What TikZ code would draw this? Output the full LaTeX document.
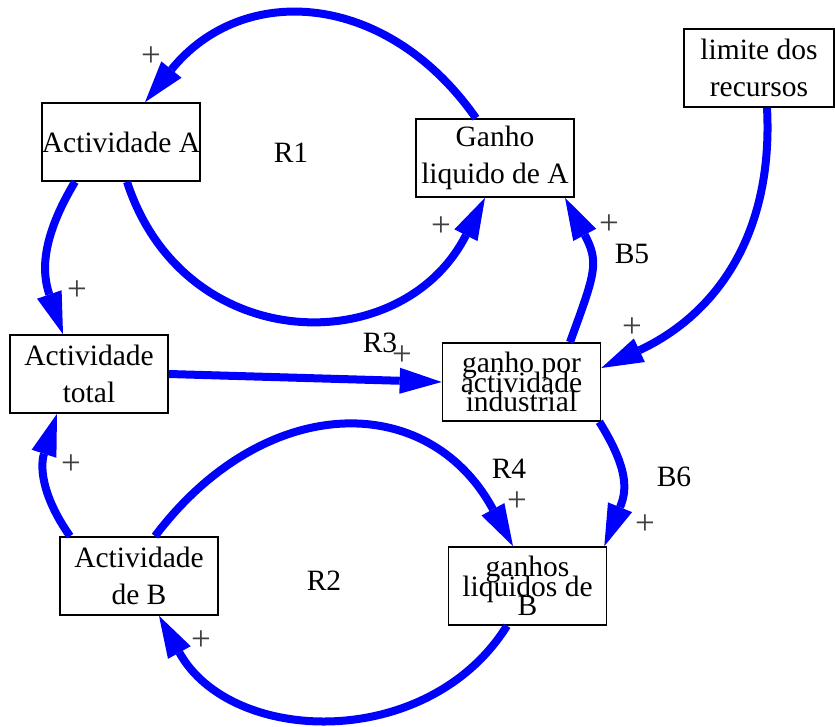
\documentclass[tikz,border=0pt]{standalone}
\usepackage{fontspec}
\setmainfont{Liberation Serif}
\usetikzlibrary{arrows.meta}
\newcommand\tightlines{\setlength{\lineskiplimit}{-60pt}\setlength{\lineskip}{0pt}}
\begin{document}
\begin{tikzpicture}[x=1pt,y=1pt,
  varbox/.style={draw=black,line width=1.6pt,fill=white,minimum width=158pt,minimum height=78pt,inner sep=0pt,align=center,
    font=\fontsize{29.5}{37}\selectfont},
  tightbox/.style={varbox,font=\fontsize{29.5}{19.5}\selectfont\tightlines},
  looplabel/.style={inner sep=0pt,font=\fontsize{29.5}{35}\selectfont},
  polarity/.style={inner sep=0pt,text=black!75,font=\fontsize{35}{40}\selectfont},
  link/.style={draw={rgb,255:red,0;green,0;blue,255},line width=8pt,line cap=butt,
    -{Triangle[length=42pt,width=26pt,line width=0pt]}}]
\useasboundingbox (0,0) rectangle (835,726);

% variables
\node[varbox] (actA) at (121,584) {Actividade A};
\node[varbox] (gA) at (495,568) {Ganho\\liquido de A};
\node[varbox,minimum width=150pt] (lim) at (759,658) {limite dos\\recursos};
\node[varbox] (actT) at (89,352) {Actividade\\total};
\node[tightbox] (gp) at (521.5,344) {ganho por\\actividade\\industrial};
\node[varbox] (actB) at (139,150) {Actividade\\de B};
\node[tightbox] (gB) at (527.5,140) {ganhos\\liquidos de\\B};

% causal links
\draw[link] ([xshift=-19pt]gA.north) to[out=125,in=51,looseness=1.2] ([xshift=24pt]actA.north);
\draw[link] ([xshift=6pt]actA.south) to[out=-72,in=-117,looseness=1.31] ([xshift=-10pt]gA.south);
\draw[link] ([xshift=-46pt]actA.south) to[out=-121,in=109,looseness=1.1] ([xshift=-26pt]actT.north);
\draw[link] (actT.east) -- (gp.west);
\draw[link] ([xshift=8pt]lim.south) to[out=-87,in=25,looseness=1.05] ([yshift=14pt]gp.east);
\draw[link] ([xshift=48.5pt]gp.north) to[out=70,in=-62,looseness=1.3] ([xshift=70pt]gA.south);
\draw[link] ([xshift=-2pt]gp.south east) to[out=-58,in=68,looseness=1.2] ([xshift=-3pt]gB.north east);
\draw[link] ([xshift=16pt]actB.north) to[out=53,in=118.5,looseness=1.28] ([xshift=-14.5pt]gB.north);
\draw[link] ([xshift=-20.5pt]gB.south) to[out=-122,in=-61,looseness=1.09] ([xshift=20pt]actB.south);
\draw[link] ([xshift=-69pt]actB.north) to[out=125,in=-108,looseness=1.1] ([xshift=-32pt]actT.south);

% loop labels
\node[looplabel] (r1) at (291,573) {R1};
\node[looplabel] (r2) at (324,145) {R2};
\node[looplabel] (r3) at (380,383) {R3};
\node[looplabel] (r4) at (509,257) {R4};
\node[looplabel] (b5) at (632,472) {B5};
\node[looplabel] (b6) at (674,249) {B6};

% link polarities
\node[polarity] (p1) at (151,669) {+};
\node[polarity] (p2) at (77,435) {+};
\node[polarity] (p3) at (441,499) {+};
\node[polarity] (p4) at (609,501) {+};
\node[polarity] (p5) at (632,398) {+};
\node[polarity] (p6) at (402,370) {+};
\node[polarity] (p7) at (71,261) {+};
\node[polarity] (p8) at (201,85) {+};
\node[polarity] (p9) at (517,224) {+};
\node[polarity] (p10) at (645,201) {+};
\end{tikzpicture}
\end{document}
